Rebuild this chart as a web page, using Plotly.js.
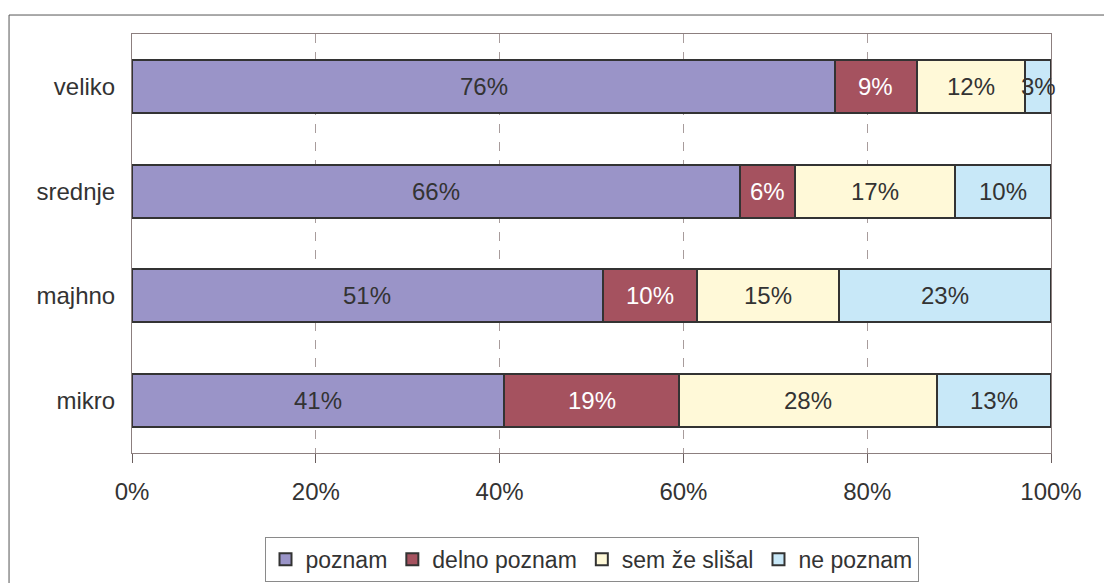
<!DOCTYPE html>
<html>
<head>
<meta charset="utf-8">
<script src="https://cdn.plot.ly/plotly-3.0.1.min.js"></script>
<style>
html,body{margin:0;padding:0;background:#fff;}
#chart{width:1104px;height:583px;}
</style>
</head>
<body>
<div id="chart"></div>
<script>
const categories = ['veliko', 'srednje', 'majhno', 'mikro'];
const seriesNames = ['poznam', 'delno poznam', 'sem že slišal', 'ne poznam'];
const poznam = [76.5, 66.2, 51.2, 40.5];
const delnoPoznam = [8.9, 5.9, 10.3, 19.0];
const semZeSlisal = [11.8, 17.45, 15.4, 28.1];
const nePoznam = [2.8, 10.45, 23.1, 12.4];
const labelsPoznam = ['76%', '66%', '51%', '41%'];
const labelsDelno = ['9%', '6%', '10%', '19%'];
const labelsSem = ['12%', '17%', '15%', '28%'];
const labelsNe = ['3%', '10%', '23%', '13%'];
const xTickVals = [0, 20, 40, 60, 80, 100];
const xTickText = ['0%', '20%', '40%', '60%', '80%', '100%'];

const colors = ['#9a94c8', '#a5525f', '#fff9d8', '#c8e8f8'];
const textColors = ['#333333', '#ffffff', '#333333', '#333333'];
const values = [poznam, delnoPoznam, semZeSlisal, nePoznam];
const labels = [labelsPoznam, labelsDelno, labelsSem, labelsNe];
const FONT = 'Liberation Sans, Arial, sans-serif';

const traces = values.map((v, i) => ({
  type: 'bar',
  orientation: 'h',
  name: seriesNames[i],
  y: categories,
  x: v,
  textposition: 'none',
  hoverinfo: 'none',
  marker: {color: colors[i], line: {color: '#333333', width: 2}}
}));

// segment labels placed at the middle of each stacked segment (data coordinates)
const annotations = [];
categories.forEach((cat, j) => {
  let start = 0;
  values.forEach((v, i) => {
    annotations.push({
      xref: 'x', yref: 'y',
      x: start + v[j] / 2,
      y: cat,
      text: labels[i][j],
      showarrow: false,
      xanchor: 'center', yanchor: 'middle',
      font: {family: FONT, size: 24, color: textColors[i]}
    });
    start += v[j];
  });
});

const layout = {
  width: 1104,
  height: 583,
  margin: {l: 132, r: 53, t: 34, b: 130, autoexpand: false},
  paper_bgcolor: '#ffffff',
  plot_bgcolor: '#ffffff',
  barmode: 'stack',
  bargap: 0.495,
  font: {family: FONT, size: 24, color: '#333333'},
  showlegend: true,
  legend: {
    orientation: 'h',
    x: 0.5, xanchor: 'center',
    y: -0.2, yanchor: 'top',
    traceorder: 'normal',
    bordercolor: '#8a8a8a',
    borderwidth: 1,
    font: {size: 23, color: '#333333'},
    itemwidth: 30,
    itemsizing: 'constant'
  },
  xaxis: {
    range: [0, 100],
    tickvals: xTickVals,
    ticktext: xTickText,
    showgrid: true,
    gridcolor: '#a89c9c',
    griddash: 'dash',
    gridwidth: 1,
    showline: true,
    linecolor: '#8c7f7f',
    linewidth: 1,
    mirror: true,
    ticks: 'outside',
    ticklen: 9,
    tickcolor: '#6b5f5f',
    ticklabelstandoff: 8,
    zeroline: false,
    fixedrange: true
  },
  yaxis: {
    autorange: 'reversed',
    showline: true,
    linecolor: '#8c7f7f',
    linewidth: 1,
    mirror: true,
    ticks: '',
    ticklabelstandoff: 11,
    showgrid: false,
    fixedrange: true
  },
  annotations: annotations,
  shapes: [{
    type: 'rect',
    xref: 'paper', yref: 'paper',
    x0: -0.1338, x1: 1.07,
    y0: -0.35, y1: 1.0453,
    line: {color: '#555555', width: 1},
    fillcolor: 'rgba(0,0,0,0)',
    layer: 'below'
  }]
};

Plotly.newPlot('chart', traces, layout, {displayModeBar: false, staticPlot: true});
</script>
</body>
</html>
